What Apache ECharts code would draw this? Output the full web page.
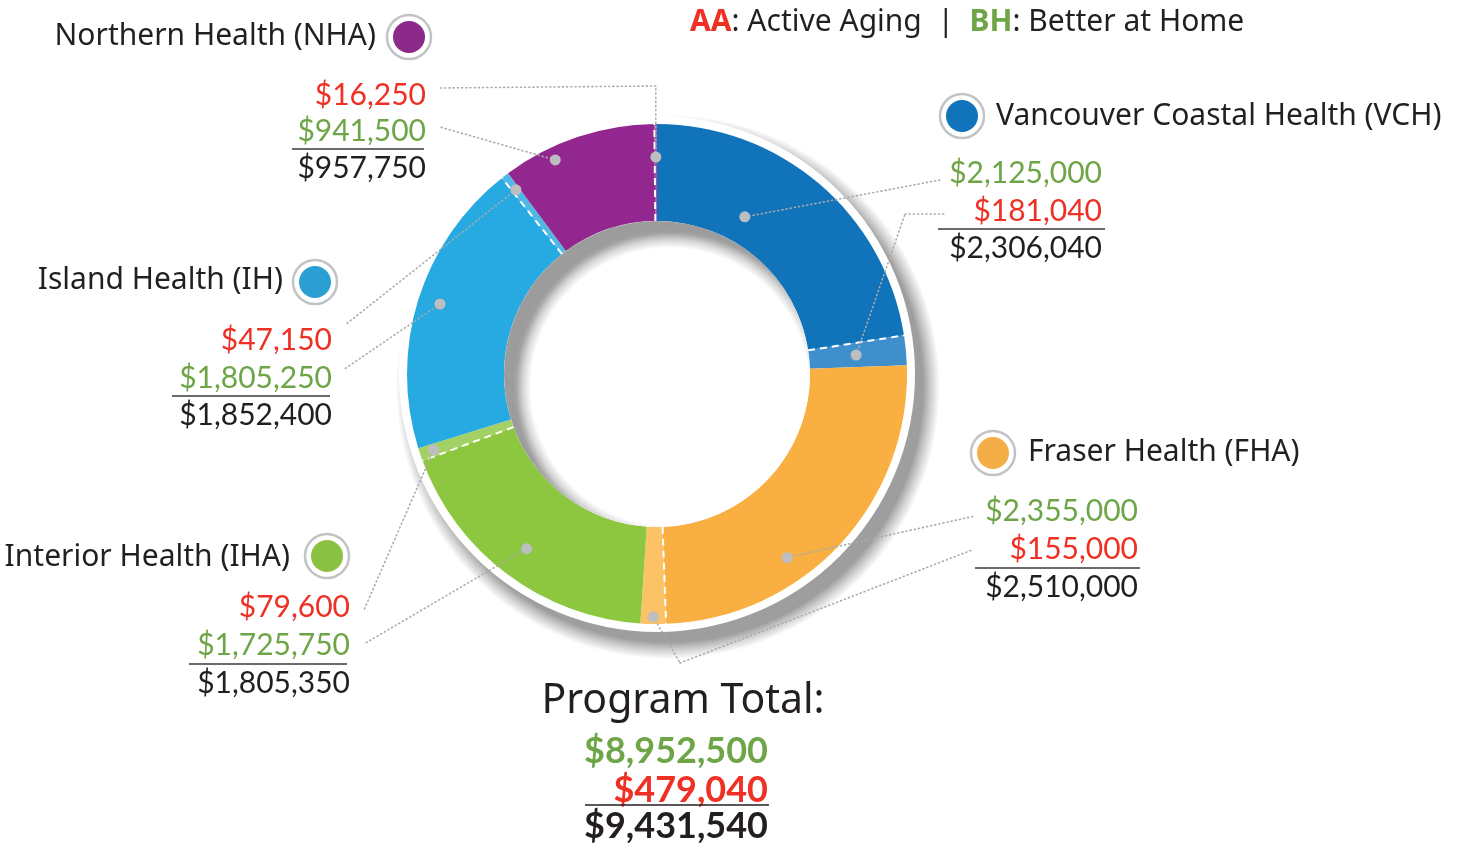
<!DOCTYPE html>
<html>
<head>
<meta charset="utf-8">
<script src="https://cdn.jsdelivr.net/npm/echarts@6.0.0/dist/echarts.min.js"></script>
<style>
  html, body { margin: 0; padding: 0; background: #fff; }
  #c1 { width: 1461px; height: 843px; }
</style>
</head>
<body>
<div id="c1"></div>
<script>
// data
const regions = ['Vancouver Coastal Health (VCH)', 'Fraser Health (FHA)', 'Interior Health (IHA)', 'Island Health (IH)', 'Northern Health (NHA)']
const betterAtHome = [2125000, 2355000, 1725750, 1805250, 941500]
const activeAging = [181040, 155000, 79600, 47150, 16250]

// colours
const bhColors = ['#1173ba', '#f9af41', '#8dc63f', '#27a9e1', '#92278f']
const aaColors = ['#3f8fcc', '#fbc266', '#a4d165', '#4fb9e6', '#a84fa6']
const badgeColors = ['#1173ba', '#f4ae47', '#8bc142', '#2c9fd2', '#8c2a8b']
const RED = '#ee3124'
const GREEN = '#6ea547'
const INK = '#231f20'
const FONT = '"Noto Sans", Lato, sans-serif'
const NUMFONT = 'Lato, "Noto Sans", sans-serif'

// layout
const CX = 657, CY = 374, R0 = 153, R1 = 250
const blocks = [
  { name: [996, 116, 'left'], badge: [962, 116], numX: 1102, rows: [173, 211, 248], rule: [938, 1105, 229], bhFirst: true,
    bh: { t: 0.36, r: 180, path: [[940, 180]] }, aa: { t: 0.5, r: 200, path: [[905, 214], [945, 214]] } },
  { name: [1028, 452, 'left'], badge: [993, 453], numX: 1138, rows: [511, 549, 587], rule: [975, 1140, 568], bhFirst: true,
    bh: { t: 0.63, r: 225, path: [[975, 516]] }, aa: { t: 0.5, r: 243, path: [[680, 663], [972, 550]] } },
  { name: [290, 557, 'right'], badge: [327, 556], numX: 350, rows: [607, 645, 683], rule: [189, 347, 664], bhFirst: false,
    bh: { t: 0.5, r: 218, path: [[364, 644]] }, aa: { t: 0.5, r: 236, path: [[364, 610]] } },
  { name: [283, 280, 'right'], badge: [315, 282], numX: 332, rows: [340, 378, 415], rule: [172, 330, 396], bhFirst: false,
    bh: { t: 0.51, r: 228, path: [[343, 370]] }, aa: { t: 0.5, r: 232, path: [[345, 325]] } },
  { name: [376, 36, 'right'], badge: [409, 37], numX: 426, rows: [95, 131, 168], rule: [292, 424, 149], bhFirst: false,
    bh: { t: 0.31, r: 237, path: [[440, 127]] }, aa: { t: 0.5, r: 217, path: [[null, 86], [440, 88]] } }
]

const money = v => '$' + v.toLocaleString('en-US')

const slices = []
regions.forEach((r, i) => {
  slices.push({ name: r + ' BH', value: betterAtHome[i], itemStyle: { color: bhColors[i] } })
  slices.push({ name: r + ' AA', value: activeAging[i], itemStyle: { color: aaColors[i] } })
})
const total = slices.reduce((s, d) => s + d.value, 0)

const polar = (deg, r) => {
  const a = deg * Math.PI / 180
  return [CX + r * Math.sin(a), CY - r * Math.cos(a)]
}

const graphics = []
const text = (x, y, str, color, size, align, weight, family) => {
  graphics.push({
    type: 'text', z: 100, silent: true,
    style: { x, y, text: str, fill: color, font: (weight || 'normal') + ' ' + size + 'px ' + (family || FONT),
      align, textAlign: align, verticalAlign: 'middle', textVerticalAlign: 'middle' }
  })
}
const line = (x1, y1, x2, y2, color, width, dash) => {
  graphics.push({
    type: 'line', z: 100, silent: true,
    shape: { x1, y1, x2, y2 },
    style: { stroke: color, lineWidth: width, lineDash: dash || null, lineCap: dash && dash[0] < 2 ? 'round' : 'butt' }
  })
}

// drop shadow under the ring, white rim, and shadow falling into the hole
const SH = 13
const RIM = 258
const Rs = R1 + 22
graphics.push({
  type: 'circle', z: 0, silent: true,
  shape: { cx: CX + 11, cy: CY + 13, r: Rs },
  style: {
    fill: new echarts.graphic.RadialGradient(CX + 11, CY + 13, Rs, [
      { offset: 0, color: 'rgba(158,158,158,1)' },
      { offset: (R1 + 5) / Rs, color: 'rgba(158,158,158,1)' },
      { offset: (R1 + 12) / Rs, color: 'rgba(158,158,158,0.55)' },
      { offset: 1, color: 'rgba(158,158,158,0)' }
    ], true)
  }
})
graphics.push({
  type: 'circle', z: 1, silent: true,
  shape: { cx: CX, cy: CY, r: RIM },
  style: { fill: '#ffffff' }
})
const Rg = R0 + 4
graphics.push({
  type: 'circle', z: 50, silent: true,
  shape: { cx: CX, cy: CY, r: R0 },
  style: {
    fill: new echarts.graphic.RadialGradient(CX + SH, CY + SH, Rg, [
      { offset: 0, color: '#ffffff' },
      { offset: (R0 - 14) / Rg, color: '#ffffff' },
      { offset: (R0 - 6) / Rg, color: '#d6d6d6' },
      { offset: (R0 + 1) / Rg, color: '#a3a3a3' },
      { offset: 1, color: '#9c9c9c' }
    ], true)
  }
})

// dashed separators, dots and leaders
let acc = 0
regions.forEach((r, i) => {
  const b = blocks[i]
  const a0 = acc / total * 360
  const a1 = (acc + betterAtHome[i]) / total * 360
  const a2 = (acc + betterAtHome[i] + activeAging[i]) / total * 360
  acc += betterAtHome[i] + activeAging[i]

  const p = polar(a1, R0), q = polar(a1, R1)
  line(p[0], p[1], q[0], q[1], '#ffffff', 2, [7, 5])

  ;[['bh', a0, a1], ['aa', a1, a2]].forEach(([k, s, e]) => {
    const cfg = b[k]
    const dot = polar(s + (e - s) * cfg.t, cfg.r)
    let prev = dot
    cfg.path.forEach(pt => {
      const nx = pt[0] == null ? dot[0] : pt[0]
      line(prev[0], prev[1], nx, pt[1], '#a7a9ac', 1.6, [1, 3.2])
      prev = [nx, pt[1]]
    })
    graphics.push({
      type: 'circle', z: 101, silent: true,
      shape: { cx: dot[0], cy: dot[1], r: 5.5 },
      style: { fill: '#bcbec0' }
    })
  })
})

// region labels
regions.forEach((r, i) => {
  const b = blocks[i]
  text(b.name[0], b.name[1], r, INK, 30, b.name[2])
  graphics.push({ type: 'circle', z: 100, silent: true, shape: { cx: b.badge[0], cy: b.badge[1], r: 22 },
    style: { fill: '#fff', stroke: '#c2c3c6', lineWidth: 2.5 } })
  graphics.push({ type: 'circle', z: 101, silent: true, shape: { cx: b.badge[0], cy: b.badge[1], r: 16 },
    style: { fill: badgeColors[i] } })
  const first = b.bhFirst ? [money(betterAtHome[i]), GREEN] : [money(activeAging[i]), RED]
  const second = b.bhFirst ? [money(activeAging[i]), RED] : [money(betterAtHome[i]), GREEN]
  text(b.numX, b.rows[0], first[0], first[1], 30, 'right', 'normal', NUMFONT)
  text(b.numX, b.rows[1], second[0], second[1], 30, 'right', 'normal', NUMFONT)
  line(b.rule[0], b.rule[2], b.rule[1], b.rule[2], '#3a3a3a', 1.5)
  text(b.numX, b.rows[2], money(betterAtHome[i] + activeAging[i]), INK, 30, 'right', 'normal', NUMFONT)
})

// program total
const bhTotal = betterAtHome.reduce((s, v) => s + v, 0)
const aaTotal = activeAging.reduce((s, v) => s + v, 0)
text(683, 701, 'Program Total:', INK, 41, 'center')
text(768, 751, money(bhTotal), GREEN, 36, 'right', 'bold', NUMFONT)
text(768, 790, money(aaTotal), RED, 36, 'right', 'bold', NUMFONT)
line(585, 805, 769, 805, '#231f20', 1.5)
text(768, 826, money(bhTotal + aaTotal), INK, 36, 'right', 'bold', NUMFONT)

// key
graphics.push({
  type: 'text', z: 100, silent: true,
  style: {
    x: 690, y: 22, text: '{r|AA}{k|: Active Aging  |  }{g|BH}{k|: Better at Home}',
    verticalAlign: 'middle', textVerticalAlign: 'middle',
    rich: {
      r: { fill: RED, fontSize: 30, fontWeight: 'bold', fontFamily: FONT },
      g: { fill: GREEN, fontSize: 30, fontWeight: 'bold', fontFamily: FONT },
      k: { fill: INK, fontSize: 30, fontFamily: FONT }
    }
  }
})

const myChart = echarts.init(document.getElementById('c1'))
const option = {
  animation: false,
  backgroundColor: '#fff',
  series: [
    {
      type: 'pie', silent: true, center: [CX, CY], radius: [R0, R1],
      startAngle: 90, clockwise: true, label: { show: false }, labelLine: { show: false },
      itemStyle: { borderWidth: 0 },
      data: slices
    }
  ],
  graphic: { elements: graphics }
}
myChart.setOption(option)
</script>
</body>
</html>
